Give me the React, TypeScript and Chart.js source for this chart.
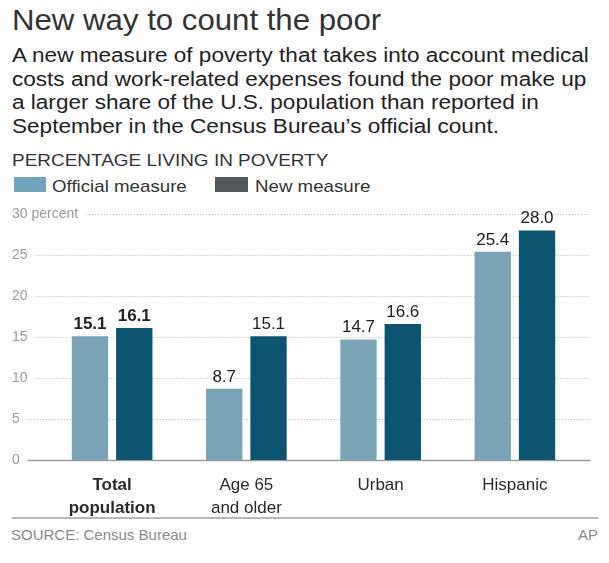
import React, { useEffect, useRef } from "react";
import { Chart, registerables } from "chart.js";

Chart.register(...registerables);

const categories: string[][] = [["Total", "population"], ["Age 65", "and older"], ["Urban"], ["Hispanic"]];
const officialValues = [15.1, 8.7, 14.7, 25.4];
const newValues = [16.1, 15.1, 16.6, 28.0];
const yTicks = [0, 5, 10, 15, 20, 25, 30];
const yTickLabels = ["0", "5", "10", "15", "20", "25", "30 percent"];
const seriesNames = ["Official measure", "New measure"];

const FONT = "'Liberation Sans', Arial, Helvetica, sans-serif";
const OFFICIAL_COLOR = "#7aa3b6";
const NEW_COLOR = "#0c5570";

const gridPlugin = {
  id: "customGrid",
  beforeDraw(chart: any) {
    const ctx = chart.ctx;
    const area = chart.chartArea;
    const y = chart.scales.y;
    ctx.save();
    ctx.font = `14px ${FONT}`;
    ctx.textAlign = "left";
    ctx.textBaseline = "middle";
    yTicks.forEach((v, i) => {
      const py = Math.round(y.getPixelForValue(v)) + 0.5;
      const label = yTickLabels[i];
      const w = ctx.measureText(label).width;
      ctx.fillStyle = "#9a9a9a";
      ctx.fillText(label, 12, py);
      if (v === 0) {
        ctx.setLineDash([]);
        ctx.strokeStyle = "#9a9a9a";
        ctx.lineWidth = 1.5;
      } else {
        ctx.setLineDash([1, 2]);
        ctx.strokeStyle = "#b0b0b0";
        ctx.lineWidth = 1;
      }
      ctx.beginPath();
      ctx.moveTo(12 + w + 8, py);
      ctx.lineTo(area.right + 8, py);
      ctx.stroke();
    });
    ctx.restore();
  },
};

const valueLabelPlugin = {
  id: "valueLabels",
  afterDatasetsDraw(chart: any) {
    const { ctx } = chart;
    ctx.save();
    ctx.textAlign = "center";
    ctx.textBaseline = "alphabetic";
    ctx.fillStyle = "#222";
    chart.data.datasets.forEach((ds: any, di: number) => {
      const meta = chart.getDatasetMeta(di);
      meta.data.forEach((bar: any, i: number) => {
        ctx.font = `${i === 0 ? "bold " : ""}17px ${FONT}`;
        ctx.fillText(Number(ds.data[i]).toFixed(1), bar.x, bar.y - 7);
      });
    });
    ctx.restore();
  },
};

export default function App() {
  const canvasRef = useRef<HTMLCanvasElement | null>(null);

  useEffect(() => {
    document.body.style.margin = "0";
    const chart = new Chart(canvasRef.current!, {
      type: "bar",
      data: {
        labels: categories,
        datasets: [
          {
            label: seriesNames[0],
            data: officialValues,
            backgroundColor: OFFICIAL_COLOR,
            categoryPercentage: 0.66,
            barPercentage: 0.82,
          },
          {
            label: seriesNames[1],
            data: newValues,
            backgroundColor: NEW_COLOR,
            categoryPercentage: 0.66,
            barPercentage: 0.82,
          },
        ],
      },
      options: {
        animation: false,
        responsive: false,
        layout: { padding: { top: 14, left: 12, right: 27, bottom: 0 } },
        plugins: { legend: { display: false }, tooltip: { enabled: false } },
        scales: {
          x: {
            grid: { display: false },
            border: { display: false },
            ticks: {
              padding: 5,
              color: "#2a2a2a",
              font: (c: any) => ({ family: FONT, size: 17, weight: c.index === 0 ? "bold" : "normal", lineHeight: 1.4 }),
            },
            afterFit: (s: any) => {
              s.height = 60;
            },
          },
          y: {
            min: 0,
            max: 30,
            grid: { display: false },
            border: { display: false },
            ticks: { display: false, stepSize: 5 },
            afterFit: (s: any) => {
              s.width = 33;
            },
          },
        },
      },
      plugins: [gridPlugin, valueLabelPlugin],
    });
    return () => chart.destroy();
  }, []);

  const stretched = (sx: number): React.CSSProperties => ({ transform: `scaleX(${sx})`, transformOrigin: "0 0" });

  return (
    <div style={{ position: "relative", width: 609, height: 563, background: "#fff", fontFamily: FONT, overflow: "hidden" }}>
      <div style={{ position: "absolute", left: 12, top: 4, fontSize: 29, color: "#333", whiteSpace: "nowrap", ...stretched(1.075) }}>
        New way to count the poor
      </div>
      <div style={{ position: "absolute", left: 12, top: 44, fontSize: 20, lineHeight: "23.5px", color: "#222", whiteSpace: "nowrap", ...stretched(1.128) }}>
        A new measure of poverty that takes into account medical
        <br />
        costs and work-related expenses found the poor make up
        <br />
        a larger share of the U.S. population than reported in
        <br />
        September in the Census Bureau’s official count.
      </div>
      <div style={{ position: "absolute", left: 12, top: 151, fontSize: 17, color: "#333", whiteSpace: "nowrap", ...stretched(1.115) }}>
        PERCENTAGE LIVING IN POVERTY
      </div>
      <div style={{ position: "absolute", left: 14, top: 177, width: 32, height: 15, background: "#6fa4bd" }} />
      <div style={{ position: "absolute", left: 52, top: 176.5, fontSize: 17, color: "#333", whiteSpace: "nowrap", ...stretched(1.1) }}>{seriesNames[0]}</div>
      <div style={{ position: "absolute", left: 215, top: 177, width: 33, height: 15, background: "#53585c" }} />
      <div style={{ position: "absolute", left: 255, top: 176.5, fontSize: 17, color: "#333", whiteSpace: "nowrap", ...stretched(1.1) }}>{seriesNames[1]}</div>
      <canvas ref={canvasRef} width={609} height={320} style={{ position: "absolute", left: 0, top: 200, width: 609, height: 320 }} />
      <div style={{ position: "absolute", left: 12, top: 517, width: 586, height: 2, background: "#b8b8b8" }} />
      <div style={{ position: "absolute", left: 11, top: 525.5, fontSize: 15, color: "#8a8a8a", whiteSpace: "nowrap" }}>SOURCE: Census Bureau</div>
      <div style={{ position: "absolute", right: 11, top: 525.5, fontSize: 15, color: "#8a8a8a" }}>AP</div>
    </div>
  );
}
